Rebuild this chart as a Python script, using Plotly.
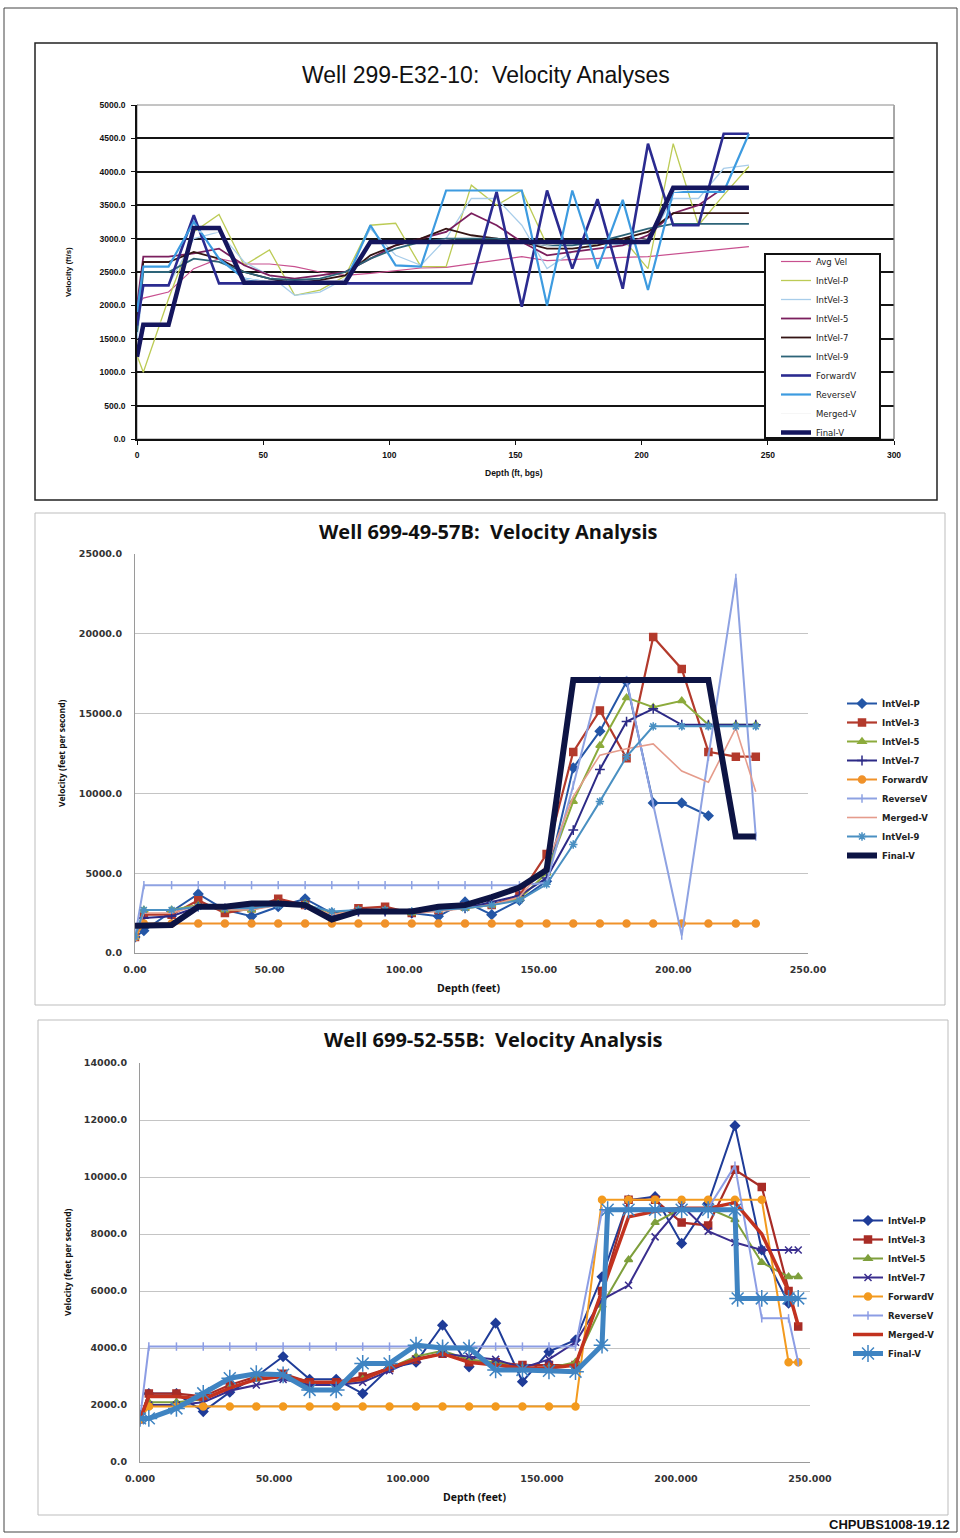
import plotly.graph_objects as go

W, H = 960, 1538

# ---------------- Chart 1: Well 299-E32-10 ----------------
depth1 = [0, 2.5, 12.5, 22.5, 32.5, 42.5, 52.5, 62.5, 72.5, 82.5, 92.5, 102.5, 112.5,
          122.5, 132.5, 142.5, 152.5, 162.5, 172.5, 182.5, 192.5, 202.5, 212.5, 222.5,
          232.5, 242.5]
c1_avg_vel = [2000, 2110, 2200, 2550, 2700, 2620, 2620, 2580, 2500, 2450, 2480, 2520, 2560,
              2570, 2620, 2680, 2730, 2670, 2690, 2710, 2720, 2730, 2770, 2800, 2840, 2880]
c1_intvel_p = [1250, 1000, 2100, 3100, 3360, 2600, 2830, 2150, 2230, 2440, 3200, 3230, 2580,
               2580, 3800, 3500, 3720, 2900, 2950, 2900, 3000, 2550, 4420, 3200, 3650, 4080]
c1_intvel_3 = [1500, 2300, 2300, 3000, 3100, 2650, 2450, 2150, 2200, 2400, 3150, 2750, 2600,
               3000, 3600, 3600, 3200, 2550, 2800, 2950, 2900, 2950, 3600, 3600, 4050, 4100]
c1_intvel_5 = [2000, 2730, 2730, 2780, 2850, 2600, 2450, 2400, 2450, 2500, 2700, 2900, 3000,
               3100, 3380, 3200, 2950, 2750, 2800, 2850, 2900, 3050, 3380, 3500, 3760, 3760]
c1_intvel_7 = [1800, 2650, 2650, 2800, 2700, 2500, 2400, 2330, 2380, 2450, 2750, 2900, 3000,
               3150, 3050, 3000, 2950, 2850, 2850, 2900, 3000, 3100, 3380, 3380, 3380, 3380]
c1_intvel_9 = [1600, 2500, 2500, 2700, 2650, 2500, 2400, 2380, 2400, 2500, 2700, 2850, 2950,
               3000, 3000, 3000, 2950, 2900, 2900, 2950, 3050, 3150, 3220, 3220, 3220, 3220]
c1_forward_v = [1700, 2300, 2300, 3350, 2330, 2330, 2330, 2330, 2330, 2330, 2330, 2330, 2330,
                2330, 2330, 3700, 1980, 3720, 2550, 3590, 2250, 4420, 3200, 3200, 4570, 4570]
c1_reverse_v = [1900, 2580, 2580, 3250, 2700, 2400, 2340, 2340, 2340, 2340, 3200, 2600, 2580,
                3720, 3720, 3720, 3720, 2000, 3720, 2550, 3580, 2230, 3700, 3700, 3700, 4570]
c1_merged_v = [1300, 1750, 1750, 3100, 3100, 2400, 2350, 2350, 2350, 2380, 2900, 2950, 2950,
               2980, 2950, 2950, 2950, 2900, 2950, 2950, 2950, 3000, 3700, 3750, 3750, 3750]
c1_final_v = [1230, 1710, 1710, 3160, 3160, 2340, 2340, 2340, 2340, 2340, 2950, 2950, 2950,
              2950, 2950, 2950, 2950, 2950, 2950, 2950, 2950, 2950, 3760, 3760, 3760, 3760]

# ---------------- Chart 2: Well 699-49-57B ----------------
depth2 = [0.0, 3.3, 13.6, 23.5, 33.4, 43.3, 53.2, 63.2, 73.1, 83.0, 92.9, 102.8, 112.7,
          122.6, 132.5, 142.8, 152.9, 162.8, 172.7, 182.6, 192.5, 203.1, 213.0, 223.2, 230.6]
c2_intvel_p = [1000, 1400, 2600, 3700, 2700, 2300, 2900, 3400, 2500, 2700, 2700, 2500, 2300,
               3200, 2400, 3300, 4500, 11600, 13900, 17000, 9400, 9400, 8600, None, None]
c2_intvel_3 = [1000, 2400, 2400, 3300, 2500, 2800, 3400, 3000, 2300, 2800, 2900, 2500, 2700,
               2900, 3000, 3600, 6200, 12600, 15200, 12200, 19800, 17800, 12600, 12300, 12300]
c2_intvel_5 = [1000, 2700, 2700, 3000, 2700, 2700, 3100, 3100, 2400, 2700, 2700, 2500, 2700,
               2800, 3000, 3400, 5000, 9500, 13000, 16000, 15400, 15800, 14300, 14300, 14300]
c2_intvel_7 = [1000, 2200, 2300, 2900, 2800, 2800, 3000, 3000, 2300, 2600, 2600, 2500, 2700,
               2800, 3200, 3600, 4700, 7700, 11500, 14500, 15300, 14300, 14300, 14300, 14300]
c2_forward_v = [1000, 1850, 1850, 1850, 1850, 1850, 1850, 1850, 1850, 1850, 1850, 1850, 1850,
                1850, 1850, 1850, 1850, 1850, 1850, 1850, 1850, 1850, 1850, 1850, 1850]
c2_reverse_v = [1000, 4250, 4250, 4250, 4250, 4250, 4250, 4250, 4250, 4250, 4250, 4250, 4250,
                4250, 4250, 4250, 4400, 10500, 17100, 17100, 9300, 1100, 12300, 23500, 7300]
c2_merged_v = [1000, 2500, 2500, 3000, 2700, 2700, 3000, 3000, 2400, 2700, 2700, 2500, 2600,
               2800, 3000, 3500, 5500, 9800, 12400, 12800, 13100, 11400, 10700, 14100, 10100]
c2_intvel_9 = [1000, 2700, 2700, 2900, 2800, 2800, 3000, 3000, 2600, 2700, 2700, 2600, 2700,
               2800, 3000, 3300, 4300, 6800, 9500, 12300, 14200, 14200, 14200, 14200, 14200]
c2_final_v = [1700, 1700, 1750, 2900, 2900, 3100, 3100, 3000, 2100, 2600, 2600, 2600, 2900,
              3000, 3500, 4100, 5200, 17100, 17100, 17100, 17100, 17100, 17100, 7300, 7300]

# ---------------- Chart 3: Well 699-52-55B ----------------
depth3 = [0.0, 3.3, 13.6, 23.6, 33.5, 43.4, 53.4, 63.3, 73.2, 83.1, 93.1, 103.0, 112.9,
          122.8, 132.7, 142.7, 152.6, 162.5, 172.4, 182.3, 192.2, 202.1, 212.0, 222.0,
          232.0, 242.0, 245.6]
c3_intvel_p = [1500, 2400, 2400, 1770, 2450, 3000, 3700, 2900, 2900, 2400, 3300, 3500, 4800,
               3340, 4870, 2820, 3870, 4280, 6500, 9190, 9310, 7670, 9080, 11800, 7440, 5570, None]
c3_intvel_3 = [1500, 2400, 2400, 2300, 2700, 3000, 3100, 2800, 2800, 3000, 3300, 3600, 3800,
               3500, 3500, 3400, 3400, 3400, 6000, 9200, 9200, 8400, 8300, 10250, 9650, 6000, 4750]
c3_intvel_5 = [1500, 2100, 2100, 2200, 2600, 2900, 3000, 2700, 2700, 2900, 3300, 3700, 3900,
               3600, 3500, 3300, 3300, 3500, 5500, 7100, 8400, 8900, 8900, 8500, 7000, 6500, 6500]
c3_intvel_7 = [1500, 2000, 2000, 2100, 2500, 2700, 2900, 2700, 2700, 2800, 3200, 3600, 3800,
               3700, 3600, 3300, 3600, 4200, 5700, 6200, 7900, 9000, 8100, 7700, 7440, 7440, 7440]
c3_forward_v = [1500, 1950, 1950, 1950, 1950, 1950, 1950, 1950, 1950, 1950, 1950, 1950, 1950,
                1950, 1950, 1950, 1950, 1950, 9200, 9200, 9200, 9200, 9200, 9200, 9200, 3500, 3500]
c3_reverse_v = [1500, 4050, 4050, 4050, 4050, 4050, 4050, 4050, 4050, 4050, 4050, 4050, 4050,
                4050, 4050, 4050, 4050, 4050, 8800, 8900, 8900, 8900, 8900, 10400, 5040, 5040, 3500]
c3_merged_v = [1500, 2300, 2300, 2200, 2600, 2900, 3000, 2800, 2800, 2900, 3300, 3600, 3800,
               3500, 3400, 3300, 3300, 3400, 6000, 8600, 8800, 8900, 8900, 9100, 8000, 6000, 4800]
depth3_final = [0.0, 3.3, 13.6, 23.6, 33.5, 43.4, 53.4, 63.3, 73.2, 83.1, 93.1, 103.0, 112.9,
                122.8, 132.7, 142.7, 152.6, 162.5, 172.4, 174.5, 182.3, 192.2, 202.1, 212.0,
                222.0, 223.0, 232.0, 242.0, 245.6]
c3_final_v = [1530, 1530, 1880, 2410, 2940, 3100, 3060, 2530, 2530, 3460, 3460, 4100, 4000,
              4000, 3230, 3230, 3200, 3170, 4100, 8850, 8850, 8850, 8850, 8850, 8850, 5740,
              5740, 5740, 5740]


def px(x):
    return x / W


def py(y):
    return 1 - y / H


fig = go.Figure()

# ---- chart 1 traces
c1_specs = [
    ("Avg Vel", c1_avg_vel, "#c8508f", 1.2),
    ("IntVel-P", c1_intvel_p, "#bccb55", 1.3),
    ("IntVel-3", c1_intvel_3, "#a8cdea", 1.3),
    ("IntVel-5", c1_intvel_5, "#7b1f5e", 1.8),
    ("IntVel-7", c1_intvel_7, "#341414", 1.8),
    ("IntVel-9", c1_intvel_9, "#2d6478", 1.8),
    ("ForwardV", c1_forward_v, "#2b2b90", 2.6),
    ("ReverseV", c1_reverse_v, "#3d9be0", 2.2),
    ("Merged-V", c1_merged_v, "#f6f6f6", 1.0),
    ("Final-V", c1_final_v, "#15165e", 4.5),
]
for name, vals, col, w in c1_specs:
    fig.add_trace(go.Scatter(x=depth1, y=vals, name=name, mode="lines",
                             line=dict(color=col, width=w), xaxis="x", yaxis="y",
                             legend="legend"))

# ---- chart 2 traces
c2_specs = [
    ("IntVel-P", c2_intvel_p, "#2456a6", 2, "diamond", 7),
    ("IntVel-3", c2_intvel_3, "#b33a2c", 2.2, "square", 7),
    ("IntVel-5", c2_intvel_5, "#8cab3c", 2, "triangle-up", 7),
    ("IntVel-7", c2_intvel_7, "#2c2a86", 2, "cross-thin-open", 7),
    ("ForwardV", c2_forward_v, "#f0922a", 2, "circle", 7),
    ("ReverseV", c2_reverse_v, "#8ea2e2", 2, "line-ns-open", 6),
    ("Merged-V", c2_merged_v, "#e59c8c", 1.6, None, 0),
    ("IntVel-9", c2_intvel_9, "#4a90c2", 2, "asterisk-open", 7),
    ("Final-V", c2_final_v, "#0d1444", 6, None, 0),
]
for name, vals, col, w, sym, sz in c2_specs:
    if sym:
        mk = dict(symbol=sym, size=sz, color=col, line=dict(color=col, width=1.5))
        mode = "lines+markers"
    else:
        mk = None
        mode = "lines"
    fig.add_trace(go.Scatter(x=depth2, y=vals, name=name, mode=mode,
                             line=dict(color=col, width=w), marker=mk,
                             connectgaps=False, xaxis="x2", yaxis="y2", legend="legend2"))

# ---- chart 3 traces
c3_specs = [
    ("IntVel-P", depth3, c3_intvel_p, "#1f3c98", 2, "diamond", 7),
    ("IntVel-3", depth3, c3_intvel_3, "#a82c26", 2.2, "square", 7),
    ("IntVel-5", depth3, c3_intvel_5, "#7e9f3c", 2, "triangle-up", 7),
    ("IntVel-7", depth3, c3_intvel_7, "#3a2e8e", 2, "x-thin-open", 7),
    ("ForwardV", depth3, c3_forward_v, "#f39a1e", 2, "circle", 7),
    ("ReverseV", depth3, c3_reverse_v, "#8c9de4", 2, "line-ns-open", 6),
    ("Merged-V", depth3, c3_merged_v, "#c2321f", 3.5, None, 0),
    ("Final-V", depth3_final, c3_final_v, "#3f84c2", 5, "asterisk-open", 14),
]
for name, xs, vals, col, w, sym, sz in c3_specs:
    if sym:
        mk = dict(symbol=sym, size=sz, color=col, line=dict(color=col, width=1.5))
        mode = "lines+markers"
    else:
        mk = None
        mode = "lines"
    fig.add_trace(go.Scatter(x=xs, y=vals, name=name, mode=mode,
                             line=dict(color=col, width=w), marker=mk,
                             xaxis="x3", yaxis="y3", legend="legend3"))

# ---- axes
tick1 = dict(family="Liberation Sans, Arial", size=8.5, color="#111", weight=700)
tick2 = dict(family="DejaVu Sans", size=9.5, color="#333", weight=700)

fig.update_layout(
    width=W, height=H, margin=dict(l=0, r=0, t=0, b=0, pad=0, autoexpand=False),
    paper_bgcolor="white", plot_bgcolor="white",
    xaxis=dict(domain=[px(137), px(894)], range=[0, 300], dtick=50, tick0=0,
               showgrid=False, zeroline=False, showline=True, linecolor="#111", linewidth=1.5,
               ticks="outside", ticklen=4, tickcolor="#111", tickfont=tick1, anchor="y",
               automargin=False, ticklabelstandoff=3),
    yaxis=dict(domain=[py(439), py(105)], range=[0, 5000], dtick=500, tick0=0,
               tickformat=".1f", showgrid=True, gridcolor="#141414", gridwidth=1.6,
               zeroline=False, showline=True, linecolor="#111", linewidth=1.5,
               ticks="outside", ticklen=4, tickcolor="#111", tickfont=tick1, anchor="x",
               automargin=False, ticklabelstandoff=4),
    xaxis2=dict(domain=[px(135), px(808)], range=[0, 250], dtick=50, tick0=0,
                tickformat=".2f", showgrid=False, zeroline=False, showline=True,
                linecolor="#9a9a9a", linewidth=1, ticks="", tickfont=tick2, anchor="y2",
                automargin=False, ticklabelstandoff=8),
    yaxis2=dict(domain=[py(953), py(554)], range=[0, 25000], dtick=5000, tick0=0,
                tickformat=".1f", showgrid=True, gridcolor="#c4c4c4", gridwidth=1,
                zeroline=False, showline=True, linecolor="#9a9a9a", linewidth=1, ticks="",
                tickfont=tick2, anchor="x2", automargin=False, ticklabelstandoff=10),
    xaxis3=dict(domain=[px(140), px(810)], range=[0, 250], dtick=50, tick0=0,
                tickformat=".3f", showgrid=False, zeroline=False, showline=True,
                linecolor="#9a9a9a", linewidth=1, ticks="", tickfont=tick2, anchor="y3",
                automargin=False, ticklabelstandoff=8),
    yaxis3=dict(domain=[py(1462), py(1063)], range=[0, 14000], dtick=2000, tick0=0,
                tickformat=".1f", showgrid=True, gridcolor="#c4c4c4", gridwidth=1,
                zeroline=False, showline=True, linecolor="#9a9a9a", linewidth=1, ticks="",
                tickfont=tick2, anchor="x3", automargin=False, ticklabelstandoff=10),
    legend=dict(x=px(776), y=py(247), xanchor="left", yanchor="top",
                bgcolor="rgba(0,0,0,0)", borderwidth=0,
                font=dict(family="DejaVu Sans", size=8.5, color="#222"),
                tracegroupgap=0, itemwidth=30),
    legend2=dict(x=px(842), y=py(689), xanchor="left", yanchor="top",
                 bgcolor="rgba(0,0,0,0)", borderwidth=0,
                 font=dict(family="DejaVu Sans", size=8.5, color="#222", weight=700),
                 tracegroupgap=0, itemwidth=30),
    legend3=dict(x=px(848), y=py(1206), xanchor="left", yanchor="top",
                 bgcolor="rgba(0,0,0,0)", borderwidth=0,
                 font=dict(family="DejaVu Sans", size=8.5, color="#222", weight=700),
                 tracegroupgap=0, itemwidth=30),
    showlegend=True,
)

shapes = [
    dict(type="rect", xref="paper", yref="paper", x0=px(4), x1=px(957), y0=py(1532), y1=py(8),
         line=dict(color="#444", width=1), layer="below"),
    dict(type="rect", xref="paper", yref="paper", x0=px(35), x1=px(937), y0=py(500), y1=py(43),
         line=dict(color="#222", width=1.5), layer="below"),
    dict(type="rect", xref="paper", yref="paper", x0=px(35), x1=px(945), y0=py(1005), y1=py(513),
         line=dict(color="#bdbdbd", width=1), layer="below"),
    dict(type="rect", xref="paper", yref="paper", x0=px(38), x1=px(948), y0=py(1515), y1=py(1020),
         line=dict(color="#bdbdbd", width=1), layer="below"),
    # top plot area: thin grey frame, with a thin grey line replacing the top grid line
    dict(type="rect", xref="paper", yref="paper", x0=px(137), x1=px(894), y0=py(439), y1=py(105),
         line=dict(color="#8a8a8a", width=1), layer="below"),
    dict(type="line", xref="paper", yref="paper", x0=px(138), x1=px(894), y0=py(105), y1=py(105),
         line=dict(color="white", width=3), layer="above"),
    dict(type="line", xref="paper", yref="paper", x0=px(137), x1=px(894), y0=py(105), y1=py(105),
         line=dict(color="#8a8a8a", width=1), layer="above"),
    dict(type="line", xref="paper", yref="paper", x0=px(894), x1=px(894), y0=py(439), y1=py(105),
         line=dict(color="#8a8a8a", width=1), layer="above"),
    # legend frame of the top chart
    dict(type="rect", xref="paper", yref="paper", x0=px(765), x1=px(880), y0=py(438), y1=py(254),
         line=dict(color="#111", width=2), fillcolor="white", layer="above"),
]
fig.update_layout(shapes=shapes)

ann = []
ann.append(dict(text="Well 299-E32-10:  Velocity Analyses", x=px(486), y=py(75),
                font=dict(family="Liberation Sans, Arial", size=23, color="#111")))
ann.append(dict(text="Velocity (ft/s)", x=px(68), y=py(272), textangle=-90,
                font=dict(family="Liberation Sans, Arial", size=8, color="#111", weight=700)))
ann.append(dict(text="Depth (ft, bgs)", x=px(514), y=py(473),
                font=dict(family="Liberation Sans, Arial", size=8.5, color="#111", weight=700)))
ann.append(dict(text="Well 699-49-57B:  Velocity Analysis", x=px(488), y=py(531),
                font=dict(family="Open Sans, Liberation Sans", size=20, color="#111", weight=700)))
ann.append(dict(text="Velocity (feet per second)", x=px(62), y=py(753), textangle=-90,
                font=dict(family="Open Sans, Liberation Sans", size=8.5, color="#111", weight=700)))
ann.append(dict(text="Depth (feet)", x=px(468), y=py(988),
                font=dict(family="Open Sans, Liberation Sans", size=10.5, color="#111", weight=700)))
ann.append(dict(text="Well 699-52-55B:  Velocity Analysis", x=px(493), y=py(1039),
                font=dict(family="Open Sans, Liberation Sans", size=20, color="#111", weight=700)))
ann.append(dict(text="Velocity (feet per second)", x=px(67), y=py(1262), textangle=-90,
                font=dict(family="Open Sans, Liberation Sans", size=8.5, color="#111", weight=700)))
ann.append(dict(text="Depth (feet)", x=px(474), y=py(1497),
                font=dict(family="Open Sans, Liberation Sans", size=10.5, color="#111", weight=700)))
ann.append(dict(text="CHPUBS1008-19.12", x=px(952), y=py(1524), xanchor="right",
                font=dict(family="Liberation Sans, Arial", size=13, color="#111", weight=700)))
for a in ann:
    a.setdefault("xanchor", "center")
    a.update(xref="paper", yref="paper", yanchor="middle", showarrow=False)
fig.update_layout(annotations=ann)

fig.write_html(
    "out.html",
    config={"displayModeBar": False},
    post_script="document.body.style.margin='0px';document.documentElement.style.overflow='hidden';document.body.style.overflow='hidden';",
)
